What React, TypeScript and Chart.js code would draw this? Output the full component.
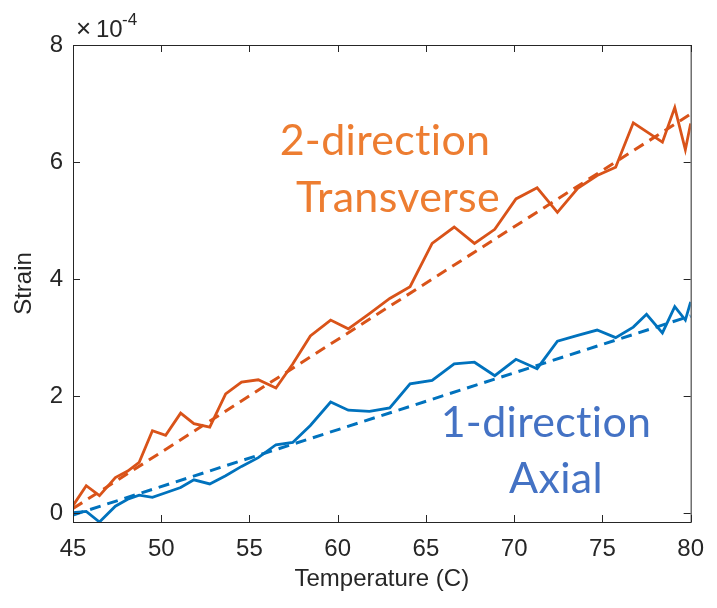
import React, { useEffect, useRef } from "react";
import { Chart, registerables } from "chart.js";

Chart.register(...registerables);

// Temperature readings (C)
const temperature = [
  45, 45.75, 46.5, 47.4, 48.1, 48.75, 49.5, 50.25, 51.1, 51.85, 52.75, 53.65,
  54.55, 55.5, 56.5, 57.45, 58.45, 59.6, 60.6, 61.8, 62.95, 64.1, 65.35, 66.6,
  67.75, 68.9, 70.1, 71.3, 72.45, 73.6, 74.7, 75.75, 76.75, 77.5, 78.4, 79.1,
  79.7, 80,
];

// Measured strain, in units of 1e-4
const transverseStrain = [
  0.13, 0.47, 0.3, 0.61, 0.72, 0.87, 1.41, 1.33, 1.71, 1.53, 1.47, 2.04, 2.24,
  2.28, 2.14, 2.55, 3.03, 3.3, 3.15, 3.41, 3.67, 3.87, 4.61, 4.89, 4.61, 4.85,
  5.37, 5.56, 5.14, 5.55, 5.77, 5.91, 6.67, 6.52, 6.34, 6.93, 6.21, 6.66,
];
const axialStrain = [
  0.01, 0.03, -0.15, 0.12, 0.24, 0.31, 0.27, 0.35, 0.44, 0.57, 0.5, 0.64, 0.8,
  0.95, 1.17, 1.21, 1.5, 1.9, 1.76, 1.74, 1.8, 2.21, 2.27, 2.55, 2.58, 2.35,
  2.63, 2.47, 2.94, 3.04, 3.13, 3.0, 3.18, 3.4, 3.08, 3.53, 3.3, 3.61,
];

// Linear fits (end points, units of 1e-4)
const fitTemperature = [45, 80];
const transverseFit = [0.08, 6.82];
const axialFit = [-0.03, 3.37];

// Axis ticks
const xTicks = [45, 50, 55, 60, 65, 70, 75, 80];
const yTicks = [0, 2, 4, 6, 8];
const yMin = -0.15;
const yMax = 8;

const RED = "#D95319";
const BLUE = "#0072BD";
const AXIS = "#262626";
const AXIS_FONT = "'Liberation Sans', Arial, sans-serif";
const NOTE_FONT = "Lato, 'Open Sans', sans-serif";

const toPoints = (xs: number[], ys: number[]) =>
  xs.map((x, i) => ({ x, y: ys[i] }));

// Box outline, inward ticks on all four sides, exponent label and annotations
const decorations = {
  id: "decorations",
  afterDraw(chart: any) {
    const { ctx, chartArea: a, scales } = chart;
    const xs = scales.x;
    const ys = scales.y;
    ctx.save();
    ctx.strokeStyle = AXIS;
    ctx.lineWidth = 1;
    ctx.strokeRect(a.left + 0.5, a.top + 0.5, a.right - a.left, a.bottom - a.top);
    const len = 7;
    ctx.beginPath();
    xTicks.forEach((t) => {
      const px = Math.round(xs.getPixelForValue(t)) + 0.5;
      ctx.moveTo(px, a.bottom);
      ctx.lineTo(px, a.bottom - len);
      ctx.moveTo(px, a.top);
      ctx.lineTo(px, a.top + len);
    });
    yTicks.forEach((t) => {
      const py = Math.round(ys.getPixelForValue(t)) + 0.5;
      ctx.moveTo(a.left, py);
      ctx.lineTo(a.left + len, py);
      ctx.moveTo(a.right, py);
      ctx.lineTo(a.right - len, py);
    });
    ctx.stroke();

    // exponent label
    ctx.fillStyle = AXIS;
    ctx.textBaseline = "alphabetic";
    ctx.textAlign = "left";
    ctx.font = `26px ${AXIS_FONT}`;
    ctx.fillText("\u00D7", a.left + 3, 37);
    ctx.font = `24px ${AXIS_FONT}`;
    ctx.fillText("10", a.left + 23, 37);
    ctx.font = `17px ${AXIS_FONT}`;
    ctx.fillText("-4", a.left + 49, 25);

    // series annotations
    ctx.textAlign = "center";
    ctx.font = `43px ${NOTE_FONT}`;
    if ("letterSpacing" in ctx) (ctx as any).letterSpacing = "0.3px";
    ctx.fillStyle = "#ED7D31";
    ctx.fillText("2-direction", 385, 155);
    ctx.fillText("Transverse", 398, 212);
    ctx.fillStyle = "#4472C4";
    ctx.fillText("1-direction", 546, 437);
    ctx.fillText("Axial", 556, 493);
    ctx.restore();
  },
};

export default function App() {
  const canvasRef = useRef<HTMLCanvasElement | null>(null);

  useEffect(() => {
    const canvas = canvasRef.current;
    if (!canvas) return;
    const chart = new Chart(canvas, {
      type: "line",
      data: {
        datasets: [
          {
            data: toPoints(temperature, transverseStrain),
            borderColor: RED,
            borderWidth: 2.8,
            pointRadius: 0,
            tension: 0,
          },
          {
            data: toPoints(fitTemperature, transverseFit),
            borderColor: RED,
            borderWidth: 3,
            borderDash: [11, 7],
            pointRadius: 0,
          },
          {
            data: toPoints(temperature, axialStrain),
            borderColor: BLUE,
            borderWidth: 2.8,
            pointRadius: 0,
            tension: 0,
          },
          {
            data: toPoints(fitTemperature, axialFit),
            borderColor: BLUE,
            borderWidth: 3,
            borderDash: [11, 7],
            pointRadius: 0,
          },
        ],
      },
      options: {
        responsive: false,
        animation: false,
        events: [],
        layout: { padding: { top: 45, right: 18, left: 0, bottom: 0 } },
        plugins: {
          legend: { display: false },
          tooltip: { enabled: false },
        },
        scales: {
          x: {
            type: "linear",
            min: 45,
            max: 80,
            grid: { display: false, drawTicks: false },
            border: { display: false },
            afterBuildTicks: (s: any) => {
              s.ticks = xTicks.map((v) => ({ value: v }));
            },
            afterFit: (s: any) => {
              s.height = 86;
            },
            ticks: {
              padding: 13,
              color: AXIS,
              font: { family: AXIS_FONT, size: 24 },
              maxRotation: 0,
              callback: (v: any) => String(v),
            },
            title: {
              display: true,
              text: "Temperature (C)",
              color: AXIS,
              font: { family: AXIS_FONT, size: 24 },
              padding: { top: 0, bottom: 14 },
            },
          },
          y: {
            type: "linear",
            min: yMin,
            max: yMax,
            grid: { display: false, drawTicks: false },
            border: { display: false },
            afterBuildTicks: (s: any) => {
              s.ticks = yTicks.map((v) => ({ value: v }));
            },
            afterFit: (s: any) => {
              s.width = 73;
            },
            ticks: {
              padding: 10,
              color: AXIS,
              font: { family: AXIS_FONT, size: 24 },
              callback: (v: any) => String(v),
            },
            title: {
              display: true,
              text: "Strain",
              color: AXIS,
              font: { family: AXIS_FONT, size: 24 },
              padding: { top: 10, bottom: 0 },
            },
          },
        },
      },
      plugins: [decorations],
    });
    return () => chart.destroy();
  }, []);

  return (
    <div style={{ position: "fixed", left: 0, top: 0, width: 717, height: 608, background: "#fff" }}>
      <canvas ref={canvasRef} width={717} height={608} />
    </div>
  );
}
